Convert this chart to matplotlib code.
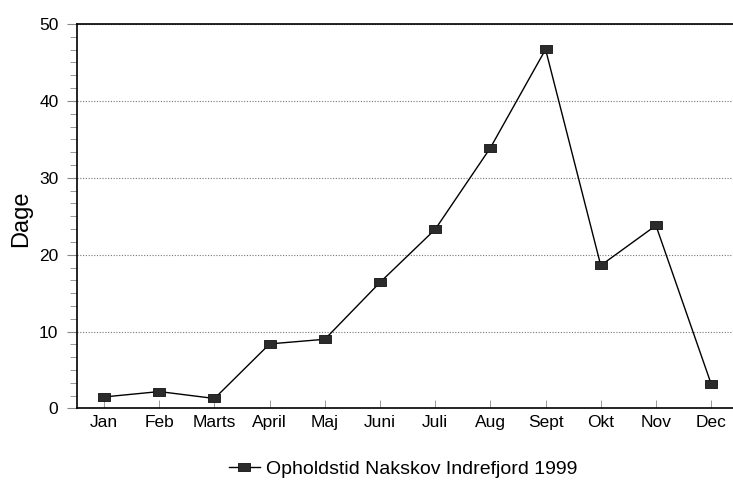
import matplotlib
matplotlib.use("Agg")
import matplotlib.pyplot as plt
from matplotlib.ticker import MultipleLocator

# data
maaneder = ["Jan", "Feb", "Marts", "April", "Maj", "Juni", "Juli", "Aug", "Sept", "Okt", "Nov", "Dec"]
dage = [1.5, 2.2, 1.3, 8.4, 9.0, 16.4, 23.3, 33.9, 46.7, 18.6, 23.8, 3.2]
serie_navn = "Opholdstid Nakskov Indrefjord 1999"

plt.rcParams["font.family"] = ["Liberation Sans", "DejaVu Sans"]

fig = plt.figure(figsize=(7.33, 4.86), dpi=100)
# axes runs a bit past the right edge, like the cropped scan
ax = fig.add_axes([0.1044, 0.1595, 0.9034, 0.7911])

# flat rectangular marker
rect = [(-1, -0.62), (1, -0.62), (1, 0.62), (-1, 0.62), (-1, -0.62)]
x = list(range(len(maaneder)))
ax.plot(x, dage, color="black", lw=1.0, marker=rect, markersize=9,
        markerfacecolor="#2b2b2b", markeredgecolor="#111111", markeredgewidth=0.6,
        label=serie_navn)

ax.set_xlim(-0.5, len(maaneder) - 0.5)
ax.set_ylim(0, 50)
ax.set_xticks(x)
ax.set_xticklabels(maaneder)
ax.yaxis.set_major_locator(MultipleLocator(10))
ax.yaxis.set_minor_locator(MultipleLocator(10 / 6))

# dotted grid for the y steps
ax.grid(axis="y", which="major", linestyle=(0, (1, 1.5)), color="#777777", lw=0.8)
ax.set_axisbelow(True)

ax.tick_params(axis="y", which="major", direction="out", length=7, width=0.8,
               color="#888888", pad=6, labelsize=12.5)
ax.tick_params(axis="y", which="minor", direction="out", length=5, width=0.7, color="#999999")
ax.tick_params(axis="x", direction="in", length=6, width=0.7, color="#999999",
               pad=5, labelsize=12.5)
for t in ax.yaxis.get_major_ticks() + ax.yaxis.get_minor_ticks() + ax.xaxis.get_major_ticks():
    t.tick1line.set_linestyle(":")

for s in ["left", "bottom", "top"]:
    ax.spines[s].set_linewidth(1.2)
    ax.spines[s].set_color("black")
ax.spines["right"].set_visible(False)

fig.text(21 / 733, 1 - 219 / 486, "Dage", rotation=90, ha="center", va="center", fontsize=17)

fig.legend(loc="center", bbox_to_anchor=(0.55, 0.034), frameon=False, fontsize=14,
           handlelength=1.6, handletextpad=0.35)

fig.savefig("out.png", dpi=100)
